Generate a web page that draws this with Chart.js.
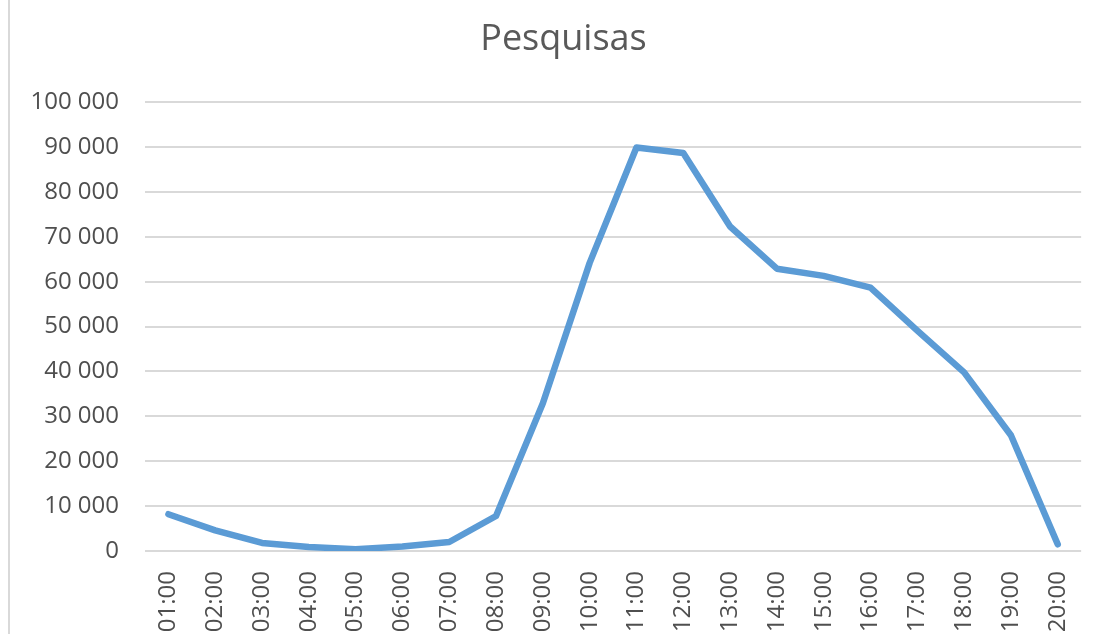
<!DOCTYPE html>
<html>
<head>
<meta charset="utf-8">
<script src="https://cdn.jsdelivr.net/npm/chart.js@4"></script>
<style>
    html, body { margin: 0; padding: 0; background: #fff; }
    #wrap { position: relative; width: 1107px; height: 634px; overflow: hidden; }
    #edge { position: absolute; left: 8px; top: 0; width: 2px; height: 634px; background: #d9d9d9; }
</style>
</head>
<body>
<div id="wrap">
    <div id="edge"></div>
    <canvas id="chart" width="1107" height="634"></canvas>
</div>
<script>
const hours = ["01:00", "02:00", "03:00", "04:00", "05:00", "06:00", "07:00", "08:00", "09:00", "10:00",
               "11:00", "12:00", "13:00", "14:00", "15:00", "16:00", "17:00", "18:00", "19:00", "20:00"];
const searches = [8200, 4600, 1800, 900, 400, 1000, 2000, 7800, 32900, 64200,
                  89900, 88700, 72300, 62900, 61300, 58700, 49100, 39800, 25800, 1500];
const yMax = 100000;
const yStep = 10000;

const grey = "#4f4f4f";

function spaced(v) {
    return String(v).replace(/\B(?=(\d{3})+(?!\d))/g, " ");
}

const ctx = document.getElementById("chart").getContext("2d");

new Chart(ctx, {
    type: "line",
    data: {
        labels: hours,
        datasets: [{
            label: "Pesquisas",
            data: searches,
            borderColor: "#5b9bd5",
            borderWidth: 6.5,
            borderCapStyle: "round",
            borderJoinStyle: "round",
            tension: 0,
            pointRadius: 0,
            fill: false
        }]
    },
    options: {
        responsive: false,
        animation: false,
        layout: {
            padding: { left: 28, right: 8, top: 0, bottom: 0 }
        },
        scales: {
            x: {
                offset: true,
                grid: { display: false, drawTicks: false },
                border: { display: false },
                ticks: {
                    color: grey,
                    font: { family: "Open Sans", size: 24 },
                    minRotation: 90,
                    maxRotation: 90,
                    padding: 20,
                    autoSkip: false
                },
                afterFit: scale => { scale.height = 83; }
            },
            y: {
                min: 0,
                max: yMax,
                grid: { color: "#d9d9d9", lineWidth: 2, drawTicks: false },
                border: { display: false },
                ticks: {
                    stepSize: yStep,
                    color: grey,
                    font: { family: "Open Sans", size: 24 },
                    padding: 26,
                    callback: v => spaced(v)
                },
                afterFit: scale => { scale.width = 117; }
            },
            // empty right-hand strip so the plot ends where the original does
            pad: {
                position: "right",
                grid: { display: false, drawTicks: false },
                border: { display: false },
                ticks: { display: false },
                afterFit: scale => { scale.width = 11; }
            }
        },
        plugins: {
            legend: { display: false },
            tooltip: { enabled: false },
            title: {
                display: true,
                text: "Pesquisas",
                color: "#595959",
                font: { family: "Open Sans", size: 36, weight: "normal" },
                padding: { top: 18, bottom: 41 }
            }
        }
    }
});
</script>
</body>
</html>
